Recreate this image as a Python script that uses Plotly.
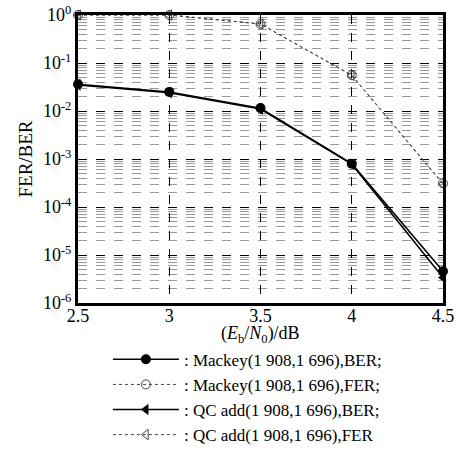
import plotly.graph_objects as go

ebn0 = [2.5, 3.0, 3.5, 4.0, 4.5]
mackey_ber = [0.036, 0.025, 0.0115, 8.0e-4, 4.6e-6]
mackey_fer = [1.0, 1.0, 0.65, 0.056, 3.1e-4]
qc_ber = [0.035, 0.024, 0.011, 7.8e-4, 3.4e-6]
qc_fer = [1.0, 1.0, 0.65, 0.055, 3.0e-4]

names = [": Mackey(1 908,1 696),BER;", ": Mackey(1 908,1 696),FER;",
         ": QC add(1 908,1 696),BER;", ": QC add(1 908,1 696),FER"]
x_ticks = [2.5, 3, 3.5, 4, 4.5]
x_ticktext = ["2.5", "3", "3.5", "4", "4.5"]
y_tickvals = [1, 1e-1, 1e-2, 1e-3, 1e-4, 1e-5, 1e-6]
y_ticktext = ["10<sup>0</sup>", "10<sup>-1</sup>", "10<sup>-2</sup>", "10<sup>-3</sup>",
              "10<sup>-4</sup>", "10<sup>-5</sup>", "10<sup>-6</sup>"]
x_title = "(<i>E</i><sub>b</sub>/<i>N</i><sub>0</sub>)/dB"

FONT = "Liberation Serif, Times New Roman, serif"

fig = go.Figure()
fig.add_trace(go.Scatter(x=ebn0, y=mackey_ber, name=names[0], mode="lines+markers",
                         line=dict(color="black", width=1.5), cliponaxis=False,
                         marker=dict(symbol="circle", size=10, color="black")))
fig.add_trace(go.Scatter(x=ebn0, y=mackey_fer, name=names[1], mode="lines+markers",
                         line=dict(color="#444444", width=1, dash="dot"), cliponaxis=False,
                         marker=dict(symbol="circle-open", size=9, color="#444444")))
fig.add_trace(go.Scatter(x=ebn0, y=qc_ber, name=names[2], mode="lines+markers",
                         line=dict(color="black", width=1.5), cliponaxis=False,
                         marker=dict(symbol="triangle-left", size=10, color="black")))
fig.add_trace(go.Scatter(x=ebn0, y=qc_fer, name=names[3], mode="lines+markers",
                         line=dict(color="#444444", width=1, dash="dot"), cliponaxis=False,
                         marker=dict(symbol="triangle-left-open", size=9, color="#444444")))

fig.add_annotation(text=x_title, xref="paper", yref="paper", x=0.5, y=-0.108,
                   xanchor="center", yanchor="middle", showarrow=False,
                   font=dict(family=FONT, size=18, color="black"))

fig.update_layout(
    width=465, height=460,
    margin=dict(l=78, r=22, t=15, b=157, autoexpand=False),
    paper_bgcolor="white", plot_bgcolor="white",
    font=dict(family=FONT, size=18, color="black"),
    showlegend=True,
    legend=dict(x=0.082, y=0.257, xanchor="left", yanchor="top", yref="container",
                font=dict(family=FONT, size=17), tracegroupgap=0,
                itemwidth=66, bgcolor="rgba(0,0,0,0)"),
    xaxis=dict(range=[2.5, 4.5], tickvals=x_ticks, ticktext=x_ticktext,
               showgrid=True, gridcolor="black", griddash="dash", gridwidth=1,
               showline=True, linecolor="black", linewidth=3, mirror=True,
               ticks="", zeroline=False, automargin=False, ticklabelstandoff=-6),
    yaxis=dict(type="log", range=[-6, 0], tickvals=y_tickvals, ticktext=y_ticktext,
               showgrid=True, gridcolor="black", griddash="dash", gridwidth=1,
               showline=True, linecolor="black", linewidth=3, mirror=True,
               ticks="", zeroline=False, automargin=False,
               minor=dict(dtick="D1", showgrid=True, gridcolor="#999999",
                          griddash="dash", gridwidth=1, ticks=""),
               title=dict(text="FER/BER", standoff=6, font=dict(size=19))),
)

fig.write_html("out.html", config={"displayModeBar": False},
               post_script="document.body.style.margin='0';")
